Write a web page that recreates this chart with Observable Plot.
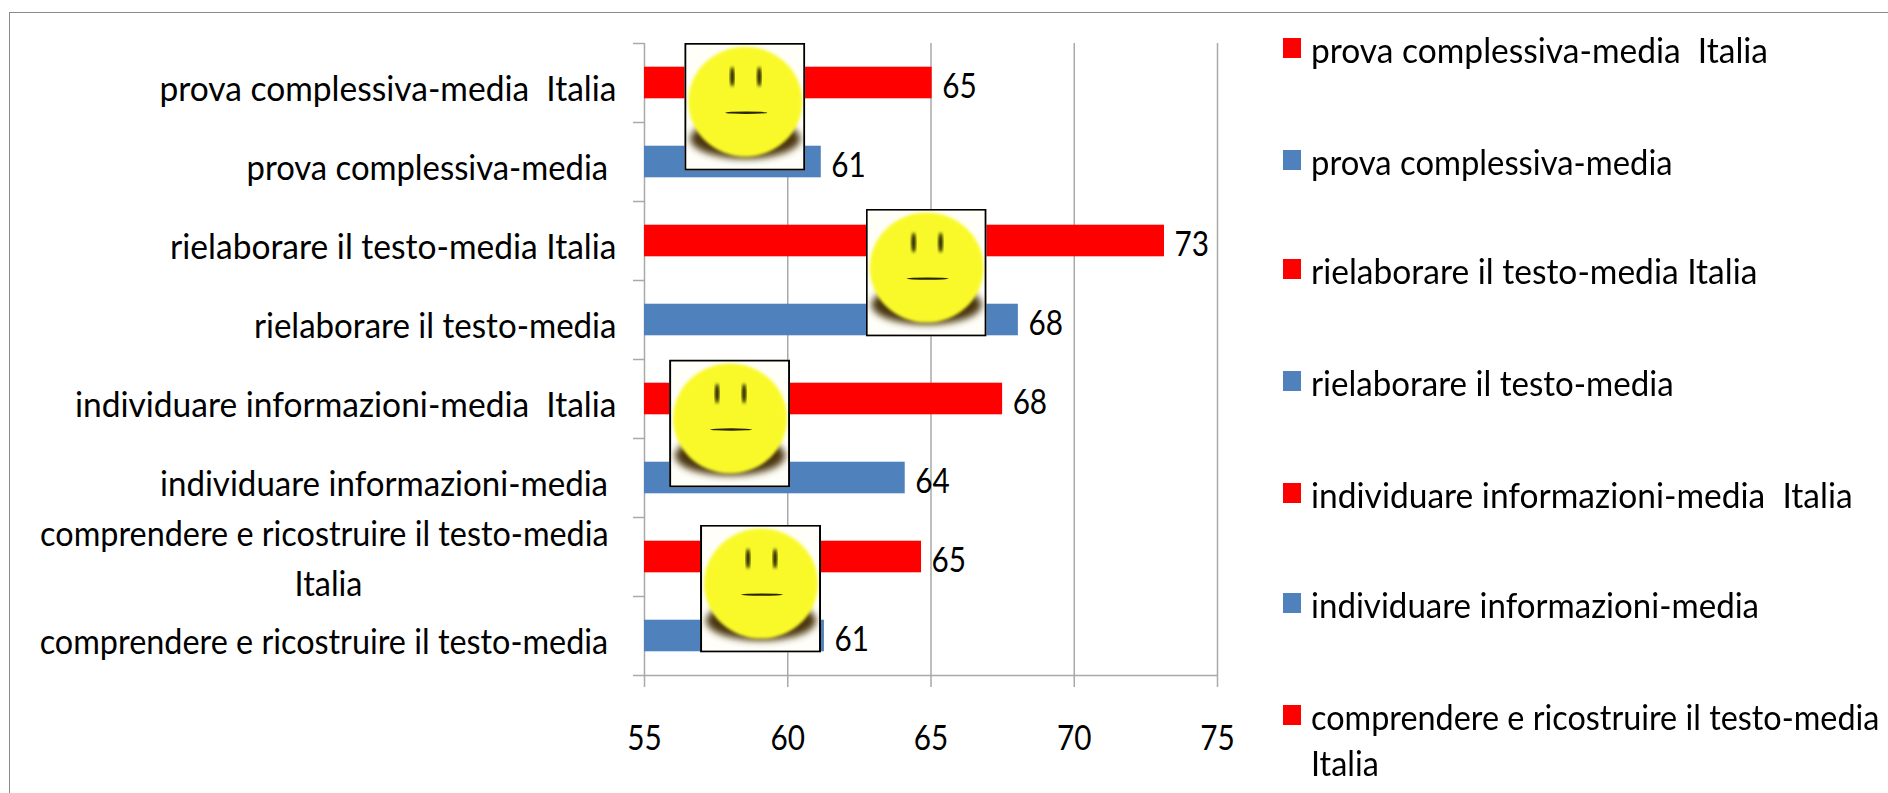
<!DOCTYPE html>
<html lang="it">
<head>
<meta charset="utf-8">
<script src="https://cdn.jsdelivr.net/npm/d3@7"></script>
<script src="https://cdn.jsdelivr.net/npm/@observablehq/plot@0.6"></script>
<style>
html,body{margin:0;padding:0;background:#fff;overflow:hidden;width:1888px;height:793px}
#frame{position:relative;width:1888px;height:793px;overflow:hidden}
#frame svg text{white-space:pre}
#border{position:absolute;left:9px;top:12px;right:-3px;bottom:-3px;border:1.5px solid #8a8a8a}
#legend{position:absolute;inset:0;font:35px Lato,"Liberation Sans",sans-serif;color:#000}
.item{position:absolute;left:1311px;line-height:46px;white-space:pre;transform-origin:0 0}
.sw{position:absolute;left:1283px;width:18px;height:20px}
</style>
</head>
<body>
<div id="frame"><div id="border"></div><div id="chart"></div><div id="legend"></div></div>
<script>
const labels = [
  "prova complessiva-media  Italia",
  "prova complessiva-media ",
  "rielaborare il testo-media Italia",
  "rielaborare il testo-media",
  "individuare informazioni-media  Italia",
  "individuare informazioni-media ",
  "comprendere e ricostruire il testo-media \nItalia",
  "comprendere e ricostruire il testo-media "
];
const values = [65.04, 61.17, 73.15, 68.05, 67.5, 64.1, 64.67, 61.28];
const valueLabels = ["65", "61", "73", "68", "68", "64", "65", "61"];
const colors = ["#ff0000", "#4f81bd", "#ff0000", "#4f81bd", "#ff0000", "#4f81bd", "#ff0000", "#4f81bd"];
const xTicks = [55, 60, 65, 70, 75];
const yBoundaries = [0, 1, 2, 3, 4, 5, 6, 7, 8];
const faceX = [58.5, 64.83, 57.97, 59.05];
const faceY = [0.8, 2.9, 4.81, 6.9];
const legendRows = [0, 1, 2, 3, 4, 5, 6];
const legendY = [49, 161, 270, 382, 494, 604, 716];
const labelSqueeze = [0.958, 0.937, 0.958, 0.945, 0.958, 0.945, 0.925, 0.925];

const FONT = 'Lato,"Liberation Sans",sans-serif';
const SQUEEZE_DIGITS = 0.85;
const faceSvg = `<svg xmlns="http://www.w3.org/2000/svg" viewBox="0 0 121 128" width="121" height="128">
<defs><filter id="b" x="-10%" y="-10%" width="120%" height="120%"><feGaussianBlur stdDeviation="1.5"/></filter><filter id="s" x="-10%" y="-30%" width="120%" height="160%"><feGaussianBlur stdDeviation="3.5"/></filter></defs>
<rect width="121" height="128" fill="#fffef8"/>
<ellipse cx="61" cy="96" rx="55" ry="20" fill="#4a3608" filter="url(#s)"/>
<ellipse cx="61" cy="59" rx="57" ry="55" fill="#f9f92a" filter="url(#b)"/>
<ellipse cx="48" cy="34" rx="2.2" ry="10" fill="#1c1a00" filter="url(#b)"/>
<ellipse cx="75" cy="34" rx="2.2" ry="10" fill="#1c1a00" filter="url(#b)"/>
<ellipse cx="62" cy="70" rx="21" ry="1.2" fill="#2a2500"/>
<rect x="1" y="1" width="119" height="126" fill="none" stroke="#000" stroke-width="2"/>
</svg>`;
const faceSrc = "data:image/svg+xml;charset=utf-8," + encodeURIComponent(faceSvg);

const rows = labels.map((label, i) => ({label, i, value: values[i], text: valueLabels[i], color: colors[i]}));
const faces = faceX.map((x, i) => ({x, y: faceY[i]}));
const GRID = "#a9a9a9";

const plot = Plot.plot({
  width: 1888, height: 793,
  marginLeft: 644, marginRight: 671, marginTop: 43, marginBottom: 118,
  style: {background: "transparent", fontFamily: FONT, color: "#000", overflow: "visible"},
  x: {domain: [55, 75], label: null},
  y: {domain: [8, 0], reverse: false, label: null},
  marks: [
    Plot.ruleX(xTicks, {stroke: GRID, strokeWidth: 1.5, y1: 0, y2: 8}),
    Plot.rectX(rows, {x1: () => 55, x2: "value", y1: d => d.i + 0.3, y2: d => d.i + 0.7, fill: "color"}),
    Plot.ruleY(yBoundaries.slice(-1), {stroke: GRID, strokeWidth: 1.5}),
    Plot.axisX({ticks: xTicks, tickSize: 12, tickPadding: 38, stroke: GRID, strokeWidth: 1.5, fontSize: 35, fill: "#000", label: null, textStroke: "none"}),
    Plot.axisY({ticks: yBoundaries, tickSize: 11, tickFormat: () => "", stroke: GRID, strokeWidth: 1.5, label: null}),
    Plot.text(rows.filter(d => d.i !== 6), {x: () => 55, y: d => d.i + 0.5, text: "label", textAnchor: "end", dx: -28, dy: 7, fontSize: 35, fill: "#000"}),
    Plot.text(rows.filter(d => d.i === 6), {x: () => 55, y: d => d.i + 0.5, text: "label", textAnchor: "middle", dx: -316, dy: -2, fontSize: 35, lineHeight: 1.42, fill: "#000"}),
    Plot.text(rows, {x: "value", y: d => d.i + 0.5, text: "text", textAnchor: "start", dx: 10, dy: 4, fontSize: 35, fill: "#000"}),
    Plot.image(faces, {x: "x", y: "y", src: () => faceSrc, width: 121, height: 128, preserveAspectRatio: "none"})
  ]
});
document.getElementById("chart").appendChild(plot);

// The reference's type is squeezed horizontally: keep real text, adjust glyph advance.
function squeezeFor(s) {
  if (/^\d+$/.test(s.trim())) return SQUEEZE_DIGITS;
  const i = labels.findIndex(l => l.split("\n").some(p => p.trim() === s.trim()));
  return i >= 0 ? labelSqueeze[i] : 1;
}
function squeeze(el) {
  const k = squeezeFor(el.textContent);
  const len = el.getComputedTextLength();
  if (len > 0 && k !== 1) {
    el.setAttribute("textLength", (len * k).toFixed(1));
    el.setAttribute("lengthAdjust", "spacingAndGlyphs");
  }
}
plot.querySelectorAll("text").forEach(t => {
  const spans = t.querySelectorAll("tspan");
  if (spans.length) spans.forEach(squeeze); else squeeze(t);
});

const legend = document.getElementById("legend");
legendRows.forEach((r, k) => {
  const sw = document.createElement("div");
  sw.className = "sw";
  sw.style.top = (legendY[k] - 11) + "px";
  sw.style.background = colors[r];
  legend.appendChild(sw);
  const item = document.createElement("div");
  item.className = "item";
  item.style.top = (legendY[k] - 23) + "px";
  item.style.transform = `scaleX(${labelSqueeze[r]})`;
  item.textContent = labels[r].trimEnd().replace(" \n", "\n");
  legend.appendChild(item);
});
</script>
</body>
</html>
